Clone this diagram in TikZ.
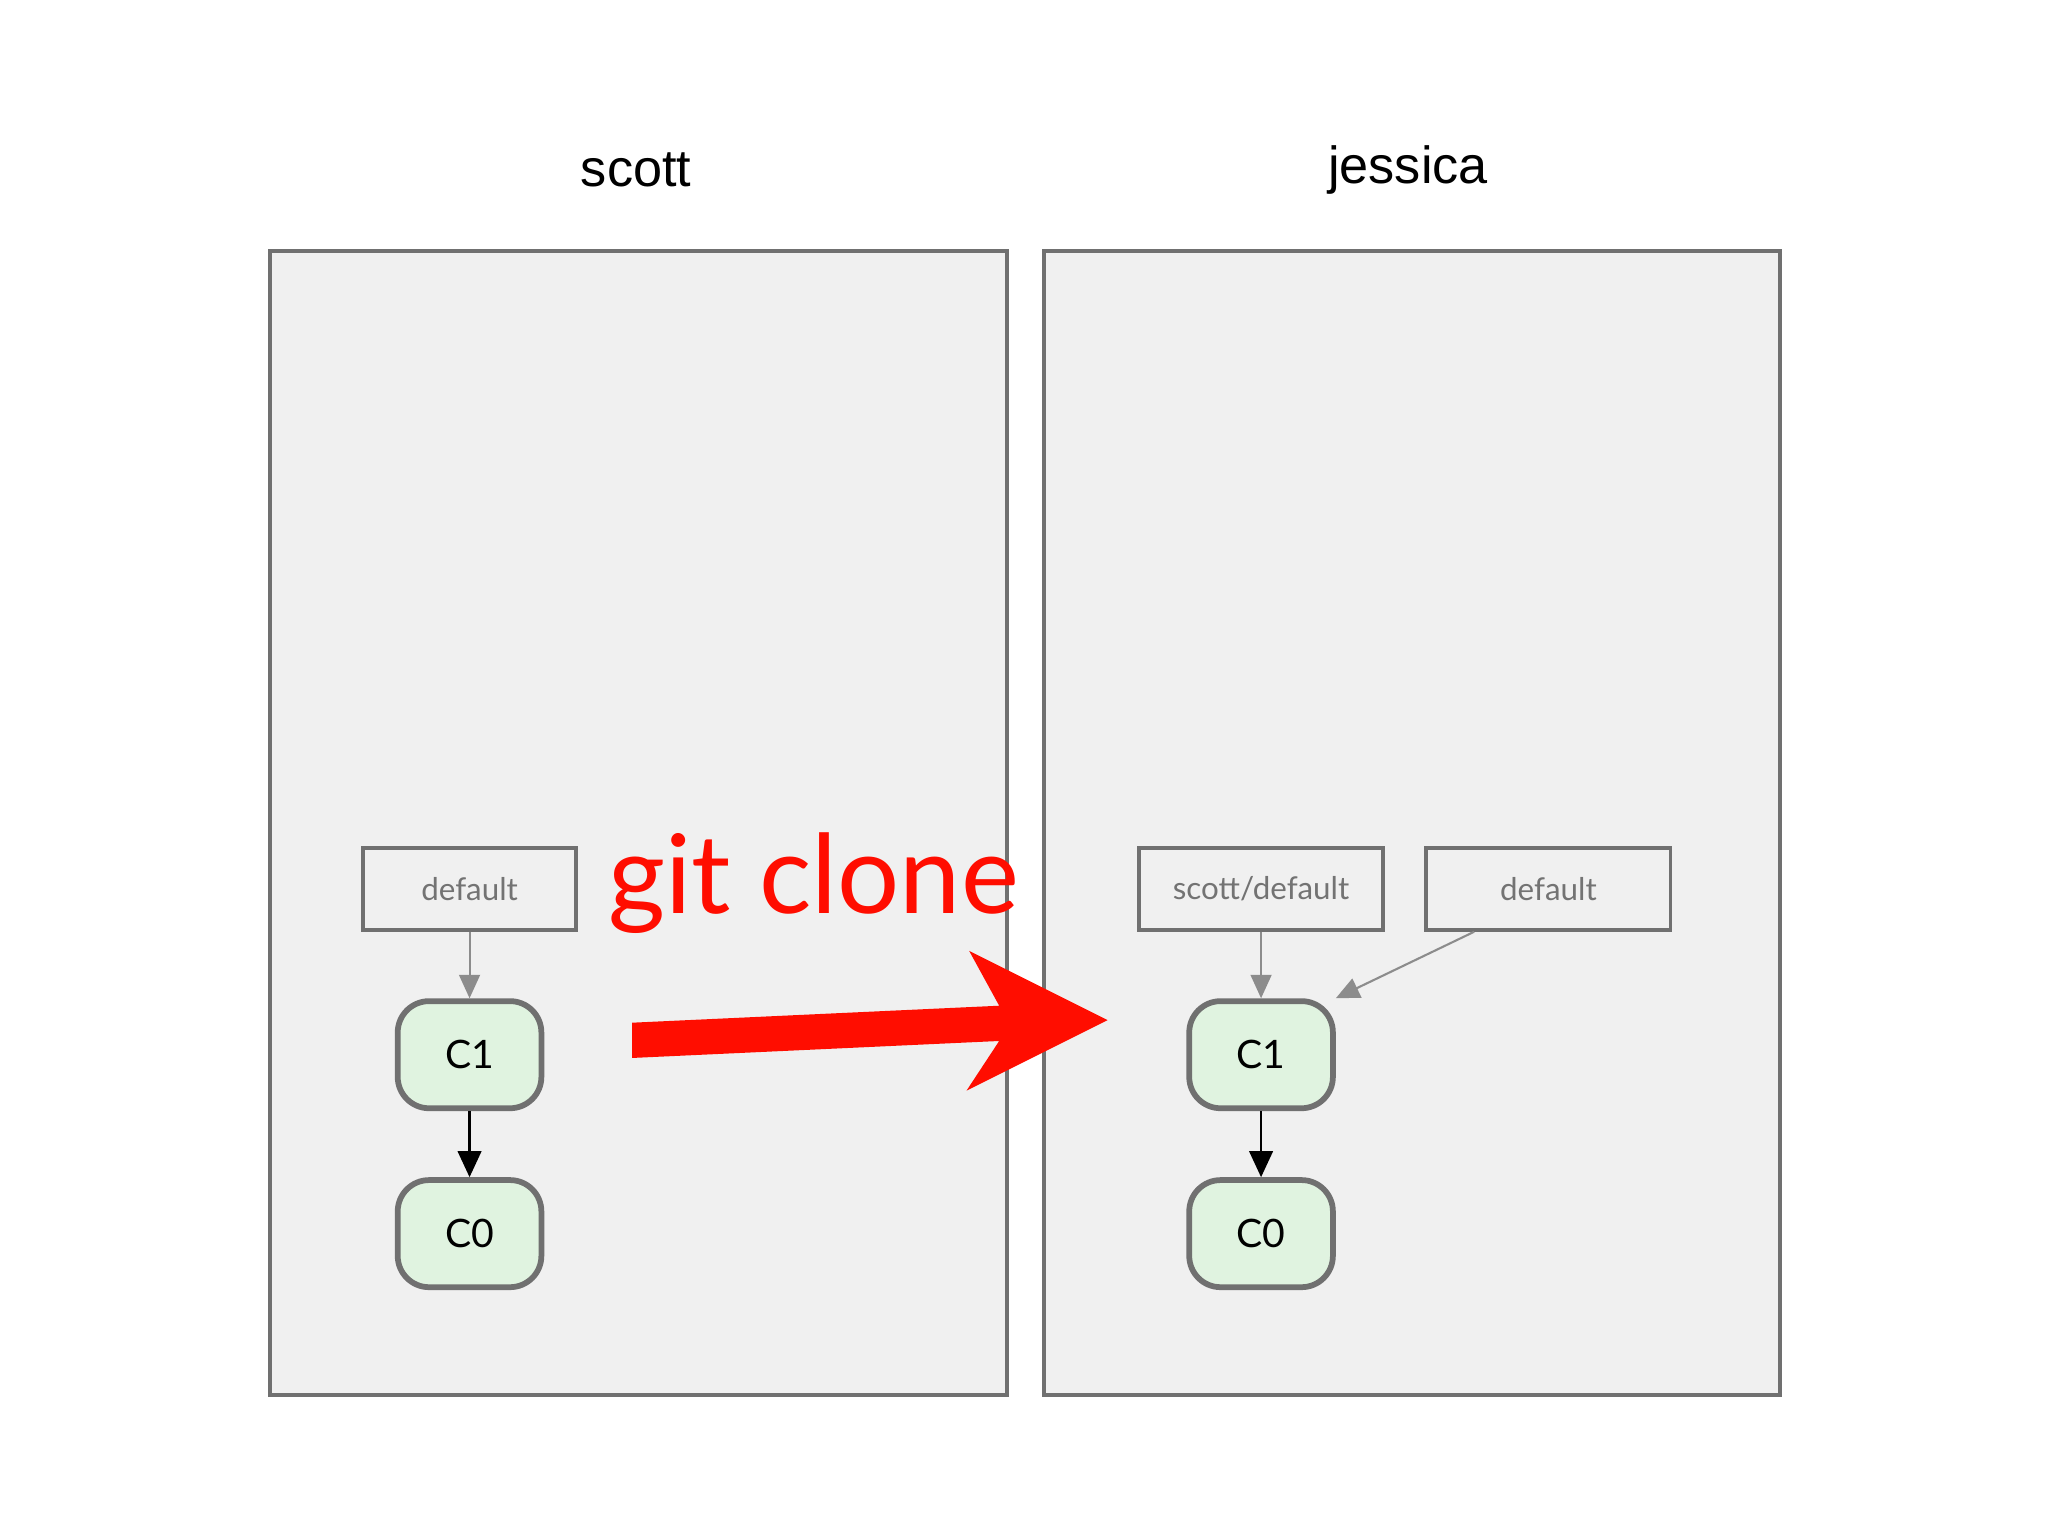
\documentclass[tikz,border=0pt]{standalone}
\usepackage{fontspec}
\setmainfont{Liberation Sans}
\newfontfamily\gill{Lato}
\usetikzlibrary{arrows.meta}
\begin{document}
\begin{tikzpicture}[x=0.5pt,y=-0.5pt,
  repo/.style={draw=black!56,fill=black!6,line width=1.5pt},
  ref/.style={draw=black!56,fill=black!6,line width=1.4pt,minimum height=31.5pt,font=\gill\fontsize{12}{14}\selectfont,text=black!55,inner sep=0pt},
  commit/.style={draw=black!56,fill=green!60!black!12,line width=2.2pt,rounded corners=12pt,minimum width=55pt,minimum height=41pt,font=\gill\fontsize{15}{18}\selectfont,inner sep=0pt},
  garr/.style={draw=black!45,line width=0.8pt,-{Triangle[length=9pt,width=8pt]}},
  barr/.style={draw=black,line width=1pt,-{Triangle[length=10pt,width=9pt]}}]
\useasboundingbox (0,0) rectangle (1568,1176);
\fill[white] (0,0) rectangle (1568,1176);
\draw[repo] (207,192) rectangle (771,1068);
\draw[repo] (799,192) rectangle (1363,1068);
\node[font=\fontsize{20}{24}\selectfont] (ts) at (487,130) {scott};
\node[font=\fontsize{20}{24}\selectfont] (tj) at (1078,130) {jessica};
\node[ref,minimum width=81.5pt] (d1) at (359.5,680.5) {default};
\node[commit] (a1) at (359.5,807.5) {C1};
\node[commit] (a0) at (359.5,944.5) {C0};
\draw[garr] (d1) -- (a1);
\draw[barr] (a1) -- (a0);
\node[ref,minimum width=93.5pt] (sd) at (965.5,680.5) {scott/default};
\node[ref,minimum width=93.5pt] (d2) at (1185.5,680.5) {default};
\node[commit] (b1) at (965.5,807.5) {C1};
\node[commit] (b0) at (965.5,944.5) {C0};
\draw[garr] (sd) -- (b1);
\draw[garr] (d2.south west)++(38,0) coordinate (ds) -- (b1.north east);
\draw[barr] (b1) -- (b0);
\fill[red!90!orange] (484,783) -- (765,770) -- (742,728) -- (848,781) -- (740,835) -- (765,797) -- (484,810) -- cycle;
\node[text=red!90!orange,font=\gill\fontsize{42}{50}\selectfont] (gc) at (623,676) {git clone};
\end{tikzpicture}
\end{document}
